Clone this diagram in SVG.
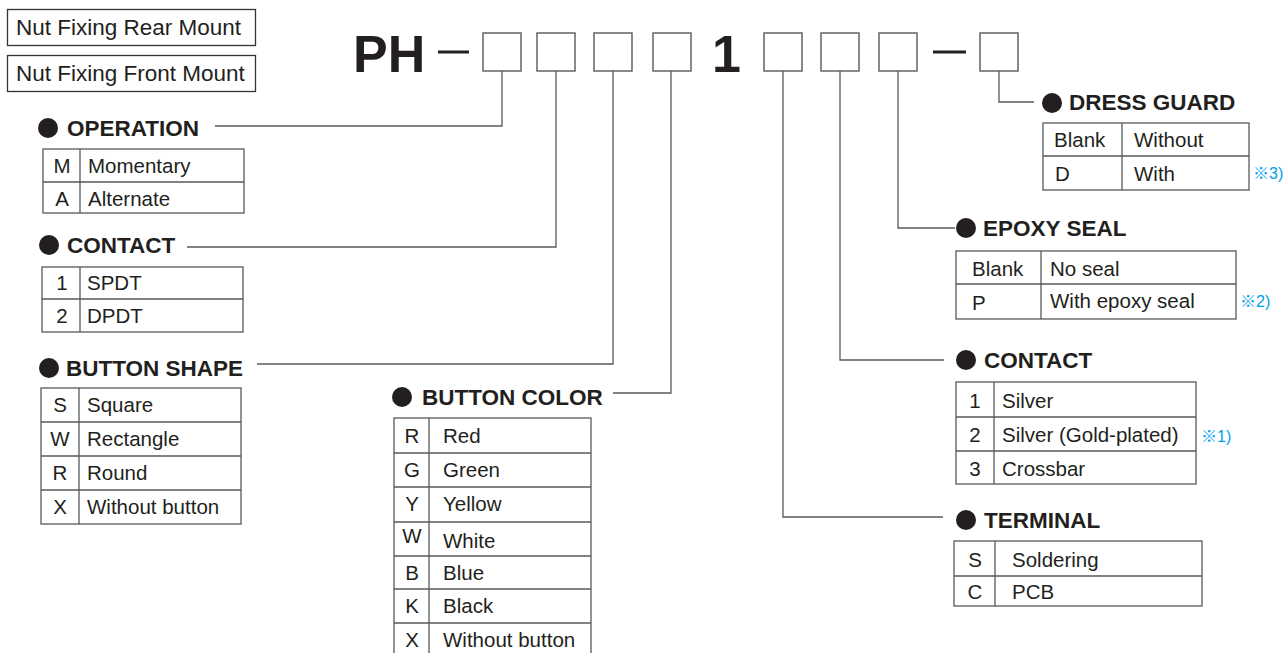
<svg xmlns="http://www.w3.org/2000/svg" width="1285" height="653" viewBox="0 0 1285 653">
<style>
text{font-family:"Liberation Sans",Arial,sans-serif;fill:#231f20}
.t{font-size:20.5px}
.h{font-size:22.5px;font-weight:bold}
.m{font-size:22.5px}
.c{text-anchor:middle}
.note{font-family:"Liberation Sans","Noto Sans CJK JP",sans-serif;font-size:16px;fill:#00a0e9}
.tb{fill:none;stroke:#58595b;stroke-width:1.3}
.bx{fill:#fff;stroke:#58595b;stroke-width:1.4}
.ln{fill:none;stroke:#58595b;stroke-width:1.3}
.dot{fill:#231f20}
</style>
<rect width="1285" height="653" fill="#fff"/>

<g id="connectors" class="ln">
<polyline points="215,126 502,126 502,71"/>
<polyline points="187,247 556,247 556,71"/>
<polyline points="257,364 613,364 613,71"/>
<polyline points="613,393 671,393 671,71"/>
<polyline points="783,71 783,517 943,517"/>
<polyline points="840,71 840,360 944,360"/>
<polyline points="898,71 898,228 955,228"/>
<polyline points="999,71 999,102 1034,102"/>
</g>

<g id="mount-rear">
<rect x="7.5" y="9.5" width="248" height="36" fill="none" stroke="#333" stroke-width="1.3"/>
<text class="m" x="16" y="35">Nut Fixing Rear Mount</text>
</g>
<g id="mount-front">
<rect x="7.5" y="55.5" width="248" height="36" fill="none" stroke="#333" stroke-width="1.3"/>
<text class="m" x="16" y="81">Nut Fixing Front Mount</text>
</g>

<g id="part-code">
<text x="353" y="72" style="font-size:52px;font-weight:bold">PH</text>
<rect x="438" y="50.5" width="31" height="3" fill="#231f20"/>
<rect class="bx" x="483" y="33" width="38" height="38"/>
<rect class="bx" x="537" y="33" width="38" height="38"/>
<rect class="bx" x="594" y="33" width="38" height="38"/>
<rect class="bx" x="653" y="33" width="38" height="38"/>
<text x="712" y="72" style="font-size:52px;font-weight:bold">1</text>
<rect class="bx" x="764" y="33" width="38" height="38"/>
<rect class="bx" x="821" y="33" width="38" height="38"/>
<rect class="bx" x="879" y="33" width="38" height="38"/>
<rect x="933" y="50.5" width="33" height="3" fill="#231f20"/>
<rect class="bx" x="980" y="33" width="38" height="38"/>
</g>

<g id="operation">
<circle class="dot" cx="48" cy="128" r="10"/>
<text class="h" x="67" y="136">OPERATION</text>
<rect class="tb" x="43" y="149" width="201" height="64"/>
<path class="tb" d="M80,149V213M43,182H244"/>
<text class="t c" x="62" y="173">M</text><text class="t" x="88" y="173">Momentary</text>
<text class="t c" x="62" y="206">A</text><text class="t" x="88" y="206">Alternate</text>
</g>

<g id="contact-left">
<circle class="dot" cx="49" cy="245" r="10"/>
<text class="h" x="67" y="253">CONTACT</text>
<rect class="tb" x="42" y="267" width="201" height="65"/>
<path class="tb" d="M80,267V332M42,299H243"/>
<text class="t c" x="62" y="290">1</text><text class="t" x="87" y="290">SPDT</text>
<text class="t c" x="62" y="323">2</text><text class="t" x="87" y="323">DPDT</text>
</g>

<g id="button-shape">
<circle class="dot" cx="49" cy="368" r="10"/>
<text class="h" x="66" y="376">BUTTON SHAPE</text>
<rect class="tb" x="41" y="388" width="200" height="136"/>
<path class="tb" d="M79,388V524M41,422H241M41,456H241M41,490H241"/>
<text class="t c" x="60" y="412">S</text><text class="t" x="87" y="412">Square</text>
<text class="t c" x="60" y="446">W</text><text class="t" x="87" y="446">Rectangle</text>
<text class="t c" x="60" y="480">R</text><text class="t" x="87" y="480">Round</text>
<text class="t c" x="60" y="514">X</text><text class="t" x="87" y="514">Without button</text>
</g>

<g id="button-color">
<circle class="dot" cx="402" cy="397" r="10"/>
<text class="h" x="422" y="405">BUTTON COLOR</text>
<rect class="tb" x="394" y="418" width="197" height="240"/>
<path class="tb" d="M429,418V658M394,453H591M394,487H591M394,522H591M394,556H591M394,589H591M394,623H591"/>
<text class="t c" x="412" y="443">R</text><text class="t" x="443" y="443">Red</text>
<text class="t c" x="412" y="477">G</text><text class="t" x="443" y="477">Green</text>
<text class="t c" x="412" y="511">Y</text><text class="t" x="443" y="511">Yellow</text>
<text class="t c" x="412" y="543">W</text><text class="t" x="443" y="548">White</text>
<text class="t c" x="412" y="580">B</text><text class="t" x="443" y="580">Blue</text>
<text class="t c" x="412" y="613">K</text><text class="t" x="443" y="613">Black</text>
<text class="t c" x="412" y="647">X</text><text class="t" x="443" y="647">Without button</text>
</g>

<g id="dress-guard">
<circle class="dot" cx="1052" cy="103" r="10"/>
<text class="h" x="1069" y="110">DRESS GUARD</text>
<rect class="tb" x="1043" y="123" width="206" height="67"/>
<path class="tb" d="M1122,123V190M1043,156H1249"/>
<text class="t" x="1054" y="147">Blank</text><text class="t" x="1134" y="147">Without</text>
<text class="t" x="1055" y="181">D</text><text class="t" x="1134" y="181">With</text>
<text class="note" x="1253" y="179">※3)</text>
</g>

<g id="epoxy-seal">
<circle class="dot" cx="966" cy="228" r="10"/>
<text class="h" x="983" y="236">EPOXY SEAL</text>
<rect class="tb" x="956" y="251" width="280" height="68"/>
<path class="tb" d="M1041,251V319M956,284H1236"/>
<text class="t" x="972" y="276">Blank</text><text class="t" x="1050" y="276">No seal</text>
<text class="t" x="972" y="310">P</text><text class="t" x="1050" y="308">With epoxy seal</text>
<text class="note" x="1240" y="307">※2)</text>
</g>

<g id="contact-right">
<circle class="dot" cx="966" cy="360" r="10"/>
<text class="h" x="984" y="368">CONTACT</text>
<rect class="tb" x="956" y="382" width="240" height="102"/>
<path class="tb" d="M994,382V484M956,417H1196M956,451H1196"/>
<text class="t c" x="975" y="408">1</text><text class="t" x="1002" y="408">Silver</text>
<text class="t c" x="975" y="442">2</text><text class="t" x="1002" y="442">Silver (Gold-plated)</text>
<text class="t c" x="975" y="476">3</text><text class="t" x="1002" y="476">Crossbar</text>
<text class="note" x="1201" y="442">※1)</text>
</g>

<g id="terminal">
<circle class="dot" cx="966" cy="520" r="10"/>
<text class="h" x="984" y="528">TERMINAL</text>
<rect class="tb" x="954" y="541" width="248" height="65"/>
<path class="tb" d="M995,541V606M954,576H1202"/>
<text class="t c" x="975" y="567">S</text><text class="t" x="1012" y="567">Soldering</text>
<text class="t c" x="975" y="599">C</text><text class="t" x="1012" y="599">PCB</text>
</g>
</svg>
